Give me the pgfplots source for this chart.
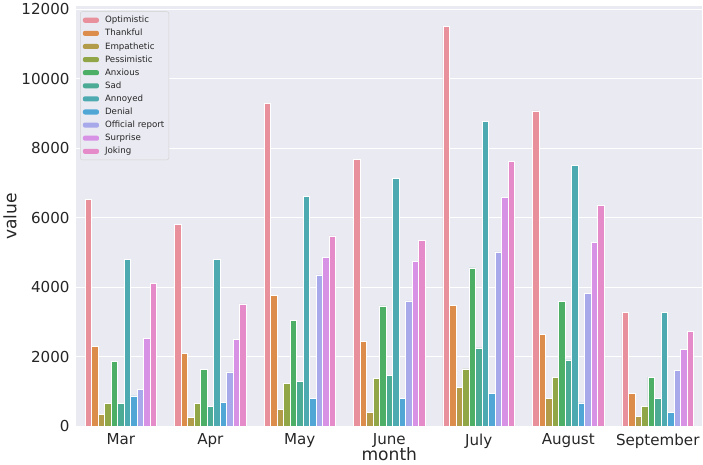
\documentclass[border=0pt]{standalone}
\usepackage{pgfplots}
\usepackage{pgfplotstable}
\pgfplotsset{compat=1.18}
\usepackage{fontspec}
\setmainfont{DejaVu Sans}
\definecolor{bg}{HTML}{EAEAF2}
\definecolor{c0}{HTML}{E8919C}
\definecolor{c1}{HTML}{DC8D4C}
\definecolor{c2}{HTML}{B29C49}
\definecolor{c3}{HTML}{91A646}
\definecolor{c4}{HTML}{4DAE66}
\definecolor{c5}{HTML}{4CAB94}
\definecolor{c6}{HTML}{4DAAB0}
\definecolor{c7}{HTML}{50A7D6}
\definecolor{c8}{HTML}{A8A9EB}
\definecolor{c9}{HTML}{D791E5}
\definecolor{c10}{HTML}{E68BCA}
\pgfplotstableread{
x opt thank emp pess anx sad ann den off sur jok
0 6520 2300 350 670 1875 655 4810 875 1060 2525 4120
1 5815 2090 255 660 1650 580 4810 695 1570 2495 3525
2 9290 3770 495 1245 3040 1305 6605 800 4355 4870 5475
3 7680 2455 400 1390 3465 1465 7130 800 3610 4750 5350
4 11505 3490 1120 1655 4560 2260 8770 945 5020 6580 7610
5 9070 2640 800 1400 3595 1910 7495 675 3830 5285 6365
6 3280 945 290 580 1420 800 3280 400 1610 2210 2725
}\data
\begin{document}
\begin{tikzpicture}
\begin{axis}[
  scale only axis,
  width=622bp, height=417bp,
  xmin=-0.5, xmax=6.5,
  ymin=0, ymax=12075,
  ybar=0pt,
  bar width=0.0727,
  xtick={0,1,2,3,4,5,6},
  xticklabels={Mar,Apr,May,June,July,August,September},
  ytick={0,2000,4000,6000,8000,10000,12000},
  scaled y ticks=false,
  yticklabel style={/pgf/number format/1000 sep={}},
  /pgf/number format/assume math mode=true,
  tick label style={font=\fontsize{15bp}{18bp}\selectfont, text=black!85},
  major tick length=0pt,
  xtick pos=bottom, ytick pos=left,
  xticklabel style={yshift=-4bp},
  yticklabel style={xshift=-3bp},
  axis line style={draw=none},
  axis background/.style={fill=bg},
  ymajorgrids,
  grid style={white, line width=1bp},
  xlabel={month}, ylabel={value},
  label style={font=\fontsize{17bp}{20bp}\selectfont, text=black!85},
  xlabel style={yshift=8bp},
  ylabel style={yshift=-2bp},
  legend cell align=left,
  legend style={at={(0.0065,0.988)}, anchor=north west,
    fill=bg, draw=black!18, rounded corners=2bp,
    font=\fontsize{8.6bp}{10bp}\selectfont, text=black!85,
    row sep=1.0bp, inner sep=2.5bp},
  legend image code/.code={\path[#1,draw=none] (0bp,-2.5bp) rectangle (16bp,2.5bp);
    \path[draw=none,fill=none] (0bp,0bp) -- (20bp,0bp);},
  every axis plot/.append style={draw=white, line width=0.6bp},
]
\addplot[fill=c0] table[x=x,y=opt]{\data};
\addplot[fill=c1] table[x=x,y=thank]{\data};
\addplot[fill=c2] table[x=x,y=emp]{\data};
\addplot[fill=c3] table[x=x,y=pess]{\data};
\addplot[fill=c4] table[x=x,y=anx]{\data};
\addplot[fill=c5] table[x=x,y=sad]{\data};
\addplot[fill=c6] table[x=x,y=ann]{\data};
\addplot[fill=c7] table[x=x,y=den]{\data};
\addplot[fill=c8] table[x=x,y=off]{\data};
\addplot[fill=c9] table[x=x,y=sur]{\data};
\addplot[fill=c10] table[x=x,y=jok]{\data};
\legend{Optimistic,Thankful,Empathetic,Pessimistic,Anxious,Sad,Annoyed,Denial,Official report,Surprise,Joking}
\end{axis}
\end{tikzpicture}
\end{document}
